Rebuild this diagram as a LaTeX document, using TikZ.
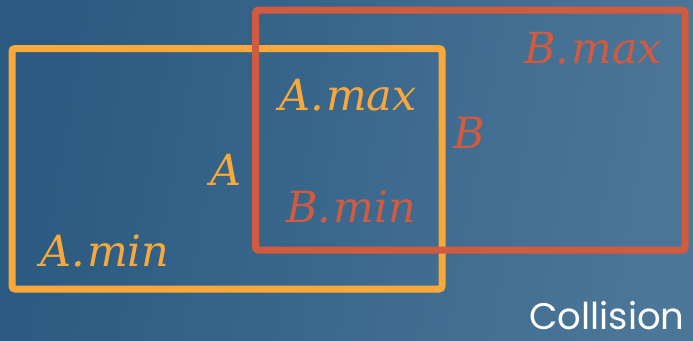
\documentclass[tikz,border=0pt]{standalone}
\usepackage{fontspec}
\usepackage{tikz}
\usetikzlibrary{positioning}
\newfontfamily\lblfont{DejaVu Serif}
\newfontfamily\capfont{Poppins}
\definecolor{cBgL}{HTML}{2A5A81}
\definecolor{cBgR}{HTML}{4B7698}
\definecolor{cOrange}{HTML}{FBA83A}
\definecolor{cRed}{HTML}{D25A3E}
\tikzset{
  box/.style    = {line width=7pt, rounded corners=3pt},
  boxA/.style   = {box, draw=cOrange},
  boxB/.style   = {box, draw=cRed},
  lbl/.style    = {anchor=base, inner sep=0pt,
                   font=\lblfont\itshape\fontsize{43}{48}\selectfont},
  lblA/.style   = {lbl, text=cOrange},
  lblB/.style   = {lbl, text=cRed},
  caption/.style= {anchor=base, inner sep=0pt, text=white,
                   font=\capfont\fontsize{37}{40}\selectfont},
}
\begin{document}
\begin{tikzpicture}[x=1pt, y=-1pt]
  % background
  \shade[left color=cBgL, right color=cBgR, shading angle=80] (0,0) rectangle (693,340);
  \useasboundingbox (0,0) rectangle (693,340);
  % the two boxes
  \draw[boxA] (12,48.5) rectangle (442,289);
  \draw[boxB] (255.5,10) rectangle (685,250);
  % labels
  \node[lblA] (amax) at (348,110) {A.\kern2pt max};
  \node[lblA] (aname) at (226,185) {A};
  \node[lblA] (amin) at (105,266) {A.\kern2pt min};
  \node[lblB] (bmax) at (593,63) {B.\kern2pt max};
  \node[lblB] (bname) at (469,148) {B};
  \node[lblB] (bmin) at (351,222) {B.\kern2pt min};
  \node[caption] (title) at (607,329) {Collision};
\end{tikzpicture}
\end{document}
